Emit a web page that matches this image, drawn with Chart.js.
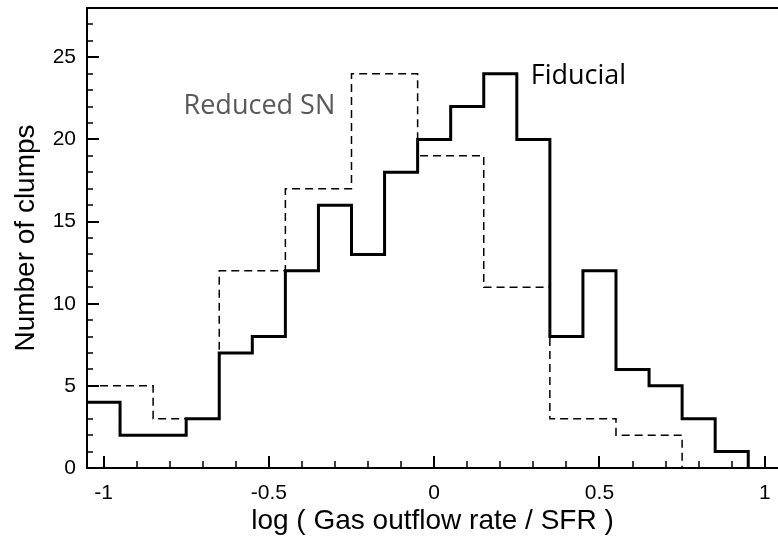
<!DOCTYPE html>
<html>
<head>
<meta charset="utf-8">
<script src="https://cdn.jsdelivr.net/npm/chart.js@4.4.1/dist/chart.umd.min.js"></script>
<style>
  html, body { margin: 0; padding: 0; background: #ffffff; }
  #wrap { width: 778px; height: 539px; }
</style>
</head>
<body>
<div id="wrap"><canvas id="c" width="778" height="539"></canvas></div>
<script>
// Histogram bins: bin edges (left edge of each bin, plus the closing edge) and counts
const fiducialEdges  = [-1.05, -0.95, -0.85, -0.75, -0.65, -0.55, -0.45, -0.35, -0.25, -0.15, -0.05,
                        0.05, 0.15, 0.25, 0.35, 0.45, 0.55, 0.65, 0.75, 0.85, 0.95];
const fiducialCounts = [4, 2, 2, 3, 7, 8, 12, 16, 13, 18, 20, 22, 24, 20, 8, 12, 6, 5, 3, 1];

const reducedEdges   = [-1.05, -0.85, -0.65, -0.45, -0.25, -0.05, 0.15, 0.35, 0.55, 0.75];
const reducedCounts  = [5, 3, 12, 17, 24, 19, 11, 3, 2];

// Axis tick labels
const xTickValues = [-1, -0.5, 0, 0.5, 1];
const yTickValues = [0, 5, 10, 15, 20, 25];

// Turn edges + counts into points for a step outline
function stepPoints(edges, counts) {
  const pts = counts.map((c, i) => ({ x: edges[i], y: c }));
  pts.push({ x: edges[edges.length - 1], y: 0 });
  return pts;
}

const TEXT_FONT = "'Liberation Sans', Arial, Helvetica, sans-serif";
const NOTE_FONT = "'Open Sans', 'Noto Sans', sans-serif";

// Inward major/minor ticks, top frame line and in-plot labels
const frameTicks = {
  id: 'frameTicks',
  afterDraw(chart) {
    const { ctx, chartArea } = chart;
    const xs = chart.scales.x, ys = chart.scales.y;
    ctx.save();
    ctx.strokeStyle = '#000';
    ctx.lineCap = 'butt';

    // top frame line
    ctx.lineWidth = 2;
    ctx.beginPath();
    ctx.moveTo(chartArea.left - 1, chartArea.top);
    ctx.lineTo(chart.width, chartArea.top);
    ctx.stroke();

    // minor ticks
    ctx.lineWidth = 1.5;
    ctx.beginPath();
    for (let k = -10; k <= 10; k++) {
      const v = k / 10;
      if (v < xs.min || v > xs.max) continue;
      const px = Math.round(xs.getPixelForValue(v));
      ctx.moveTo(px, chartArea.bottom);
      ctx.lineTo(px, chartArea.bottom - 7);
    }
    for (let v = 0; v <= ys.max; v += 1) {
      const py = Math.round(ys.getPixelForValue(v));
      ctx.moveTo(chartArea.left, py);
      ctx.lineTo(chartArea.left + 6, py);
    }
    ctx.stroke();

    // major ticks
    ctx.lineWidth = 2;
    ctx.beginPath();
    xs.ticks.forEach(t => {
      const px = Math.round(xs.getPixelForValue(t.value));
      ctx.moveTo(px, chartArea.bottom);
      ctx.lineTo(px, chartArea.bottom - 12);
    });
    ys.ticks.forEach(t => {
      const py = Math.round(ys.getPixelForValue(t.value));
      ctx.moveTo(chartArea.left, py);
      ctx.lineTo(chartArea.left + 12, py);
    });
    ctx.stroke();

    // series labels
    ctx.font = '27px ' + NOTE_FONT;
    ctx.textAlign = 'left';
    ctx.textBaseline = 'alphabetic';
    ctx.fillStyle = '#595959';
    ctx.fillText('Reduced SN', xs.getPixelForValue(-0.758), ys.getPixelForValue(21.55));
    ctx.fillStyle = '#000000';
    ctx.fillText('Fiducial', xs.getPixelForValue(0.292), ys.getPixelForValue(23.4));
    ctx.restore();
  }
};

new Chart(document.getElementById('c'), {
  type: 'line',
  data: {
    datasets: [
      {
        label: 'Fiducial',
        data: stepPoints(fiducialEdges, fiducialCounts),
        stepped: 'before',
        borderColor: '#000000',
        borderWidth: 3,
        borderJoinStyle: 'miter',
        borderCapStyle: 'butt',
        pointRadius: 0,
        fill: false,
        order: 0
      },
      {
        label: 'Reduced SN',
        data: stepPoints(reducedEdges, reducedCounts),
        stepped: 'before',
        borderColor: '#000000',
        borderWidth: 1.5,
        borderDash: [8, 5],
        borderJoinStyle: 'miter',
        borderCapStyle: 'butt',
        pointRadius: 0,
        fill: false,
        order: 1
      }
    ]
  },
  options: {
    responsive: false,
    animation: false,
    devicePixelRatio: 1,
    layout: { padding: { top: 8, left: 0, right: 0, bottom: 0 } },
    plugins: { legend: { display: false }, tooltip: { enabled: false } },
    scales: {
      x: {
        type: 'linear',
        min: -1.05,
        max: 1.04,
        afterBuildTicks: s => { s.ticks = xTickValues.map(v => ({ value: v })); },
        afterFit: s => { s.height = 71; s.paddingLeft = 0; s.paddingRight = 0; },
        grid: { display: false, drawTicks: false },
        border: { display: true, color: '#000', width: 2 },
        ticks: {
          padding: 13,
          color: '#000',
          font: { family: TEXT_FONT, size: 21 },
          maxRotation: 0,
          autoSkip: false,
          callback: v => String(v)
        },
        title: {
          display: true,
          text: 'log ( Gas outflow rate / SFR )',
          color: '#000',
          font: { family: TEXT_FONT, size: 28 },
          padding: { top: 0, bottom: 1 }
        }
      },
      y: {
        type: 'linear',
        min: 0,
        max: 28,
        afterBuildTicks: s => { s.ticks = yTickValues.map(v => ({ value: v })); },
        afterFit: s => { s.width = 87; s.paddingTop = 0; s.paddingBottom = 0; },
        grid: { display: false, drawTicks: false },
        border: { display: true, color: '#000', width: 2 },
        ticks: {
          padding: 11,
          color: '#000',
          font: { family: TEXT_FONT, size: 21 },
          autoSkip: false,
          callback: v => String(v)
        },
        title: {
          display: true,
          text: 'Number of clumps',
          color: '#000',
          font: { family: TEXT_FONT, size: 28 },
          padding: { top: 9, bottom: 0 }
        }
      }
    }
  },
  plugins: [frameTicks]
});
</script>
</body>
</html>
